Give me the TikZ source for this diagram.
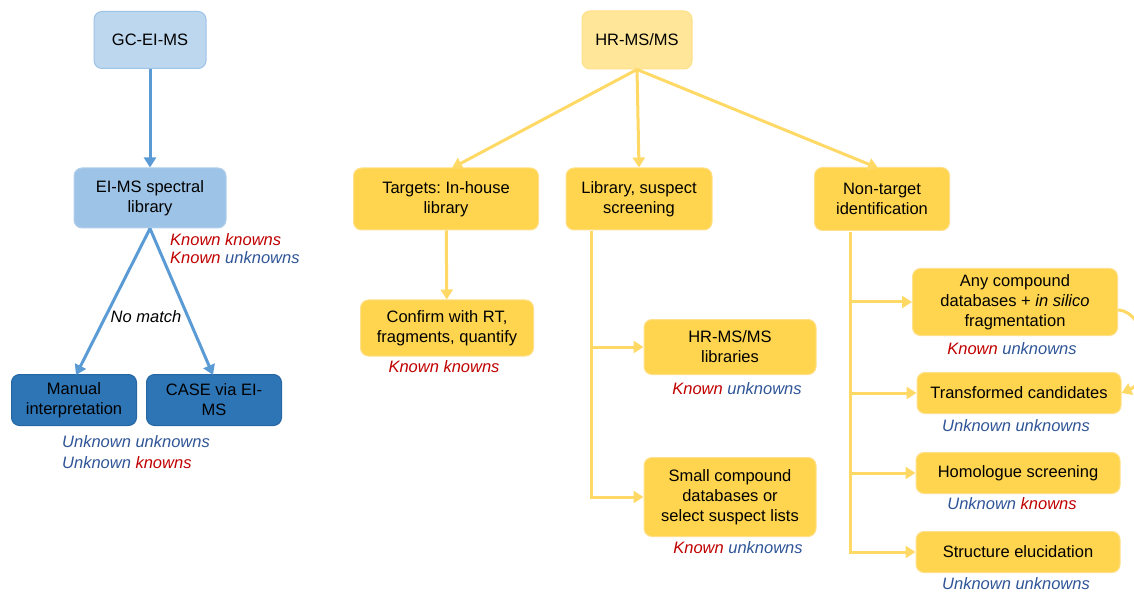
\documentclass[tikz,border=0pt]{standalone}
\usepackage{fontspec}
\setmainfont{Liberation Sans}
\usetikzlibrary{arrows.meta}
\definecolor{bluelt}{HTML}{BDD7EE}
\definecolor{bluemd}{HTML}{9DC3E6}
\definecolor{bluedk}{HTML}{2E75B6}
\definecolor{bluedkline}{HTML}{2566A3}
\definecolor{bluearr}{HTML}{5B9BD5}
\definecolor{yellt}{HTML}{FFE699}
\definecolor{yelbox}{HTML}{FFD54F}
\definecolor{yelline}{HTML}{FFE08A}
\definecolor{yelarr}{HTML}{FFD966}
\definecolor{knred}{HTML}{C00000}
\definecolor{knblue}{HTML}{2F5597}
\newcommand{\kn}[1]{\textcolor{knred}{#1}}
\newcommand{\unk}[1]{\textcolor{knblue}{#1}}
\frenchspacing
\begin{document}
\begin{tikzpicture}[x=1pt,y=-1pt,>={Triangle[width=12pt,length=10pt]},
    box/.style={rounded corners=8pt,line width=1pt,align=center,inner sep=2pt,
        font=\fontsize{16.5}{20}\selectfont},
    bbox/.style={box,draw=bluemd,fill=bluelt},
    bmbox/.style={box,draw=bluemd!80!white,fill=bluemd},
    bdbox/.style={box,draw=bluedkline,fill=bluedk},
    ybox/.style={box,draw=yelline,fill=yelbox},
    lbl/.style={font=\fontsize{16.5}{20}\selectfont\itshape,inner sep=0pt},
    barr/.style={->,draw=bluearr,line width=3pt},
    yarr/.style={->,draw=yelarr,line width=3pt}]
    \useasboundingbox (0,0) rectangle (1134,593);
    % GC-EI-MS branch
    \node[bbox,minimum width=112pt,minimum height=57pt] (gc) at (150,40) {GC-EI-MS};
    \node[bmbox,minimum width=152pt,minimum height=60pt] (eilib) at (150,198) {EI-MS spectral\\library};
    \node[bdbox,minimum width=125pt,minimum height=51pt] (manual) at (74,400) {Manual\\interpretation};
    \node[bdbox,minimum width=135pt,minimum height=51pt] (casems) at (214,400) {CASE via EI-\\MS};
    \draw[barr] (gc) -- (eilib);
    \draw[barr] (eilib.south) -- (76,375);
    \draw[barr] (eilib.south) -- (213,375);
    \node[lbl,anchor=west] (eikk) at (170,240) {\kn{Known knowns}};
    \node[lbl,anchor=west] (eiku) at (170,258) {\kn{Known} \unk{unknowns}};
    \node[lbl] (nomatch) at (146,317) {No match};
    \node[lbl,anchor=west] (bluu) at (62,442) {\unk{Unknown unknowns}};
    \node[lbl,anchor=west] (bluk) at (62,463) {\unk{Unknown} \kn{knowns}};
    % HR-MS/MS branch
    \node[box,draw=yelline,fill=yellt,minimum width=110pt,minimum height=58pt] (hr) at (637,40) {HR-MS/MS};
    \node[ybox,minimum width=185pt,minimum height=62pt] (targets) at (446,199) {Targets: In-house\\library};
    \node[ybox,minimum width=146pt,minimum height=62pt] (suspect) at (639,199) {Library, suspect\\screening};
    \node[ybox,minimum width=135pt,minimum height=63pt] (nontarget) at (882,199) {Non-target\\identification};
    \draw[yarr] (hr.south) -- (452,168);
    \draw[yarr] (hr.south) -- (suspect.north);
    \draw[yarr] (hr.south) -- (878,168);
    % targets
    \node[ybox,minimum width=173pt,minimum height=56pt] (confirm) at (447,328) {Confirm with RT,\\fragments, quantify};
    \draw[yarr] (targets) -- (confirm);
    \node[lbl] (tkk) at (444,367) {\kn{Known knowns}};
    % suspect screening
    \node[ybox,minimum width=172pt,minimum height=55pt] (hrlib) at (730,347) {HR-MS/MS\\libraries};
    \node[ybox,minimum width=172pt,minimum height=79pt] (smallcp) at (730,497) {Small compound\\databases or\\select suspect lists};
    \draw[yarr] (591,231) |- (hrlib);
    \draw[yarr] (591,231) |- (smallcp);
    \node[lbl] (sku1) at (737,389) {\kn{Known} \unk{unknowns}};
    \node[lbl] (sku2) at (738,548) {\kn{Known} \unk{unknowns}};
    % non-target
    \node[ybox,minimum width=205pt,minimum height=67pt] (anycp) at (1015,302) {Any compound\\databases + \textit{in silico}\\fragmentation};
    \node[ybox,minimum width=204pt,minimum height=41pt] (transf) at (1019,393) {Transformed candidates};
    \node[ybox,minimum width=204pt,minimum height=41pt] (homol) at (1018,473) {Homologue screening};
    \node[ybox,minimum width=204pt,minimum height=41pt] (struct) at (1018,552) {Structure elucidation};
    \foreach \n in {anycp,transf,homol,struct}
        \draw[yarr] (850,232) |- (\n);
    \draw[yarr] ([yshift=-8pt]anycp.east) .. controls (1150,312) and (1152,380) .. (transf.east);
    \node[lbl] (nku) at (1012,349) {\kn{Known} \unk{unknowns}};
    \node[lbl] (nuu1) at (1016,426) {\unk{Unknown unknowns}};
    \node[lbl] (nuk) at (1012,504) {\unk{Unknown} \kn{knowns}};
    \node[lbl] (nuu2) at (1016,584) {\unk{Unknown unknowns}};
\end{tikzpicture}
\end{document}
